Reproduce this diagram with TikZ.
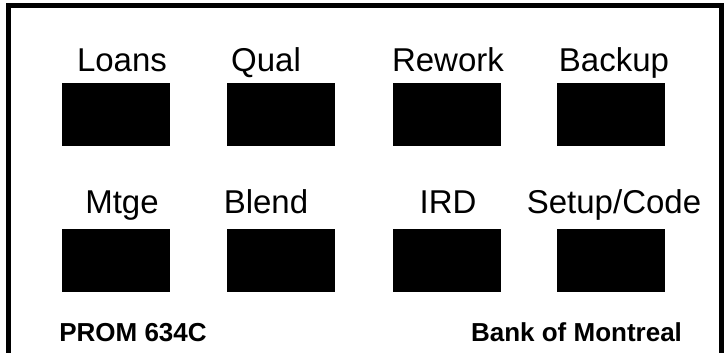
\documentclass[tikz,border=0pt]{standalone}
\usepackage{fontspec}
\setmainfont{Liberation Sans}
\begin{document}
\begin{tikzpicture}[x=1pt,y=-1pt]
\tikzset{key/.style={fill=black,minimum width=108pt,minimum height=63pt,inner sep=0pt},
  keylabel/.style={anchor=base,inner sep=0pt,font=\fontsize{33}{33}\selectfont},
  tag/.style={anchor=base,inner sep=0pt,font=\fontsize{26}{26}\selectfont\bfseries}}
\useasboundingbox (0,0) rectangle (726,353);
\draw[line width=5pt] (8.5,360) -- (8.5,5.8) -- (721.5,5.8) -- (721.5,360);
% top row
\node[key] (loans) at (116,114.5) {};
\node[key] (qual) at (280.5,114.5) {};
\node[key] (rework) at (446.5,114.5) {};
\node[key] (backup) at (611,114.5) {};
\node[keylabel] (loanslabel) at (122,72) {Loans};
\node[keylabel] (quallabel) at (266,72) {Qual};
\node[keylabel] (reworklabel) at (448,72) {Rework};
\node[keylabel] (backuplabel) at (614,72) {Backup};
% bottom row
\node[key] (mtge) at (116,260.5) {};
\node[key] (blend) at (280.5,260.5) {};
\node[key] (ird) at (446.5,260.5) {};
\node[key] (setup) at (611,260.5) {};
\node[keylabel] (mtgelabel) at (122,213) {Mtge};
\node[keylabel] (blendlabel) at (266,213) {Blend};
\node[keylabel] (irdlabel) at (448,213) {IRD};
\node[keylabel] (setuplabel) at (614,213) {Setup/Code};
% footer
\node[tag] (prom) at (133,341) {PROM 634C};
\node[tag] (bank) at (576.5,341) {Bank of Montreal};
\end{tikzpicture}
\end{document}
